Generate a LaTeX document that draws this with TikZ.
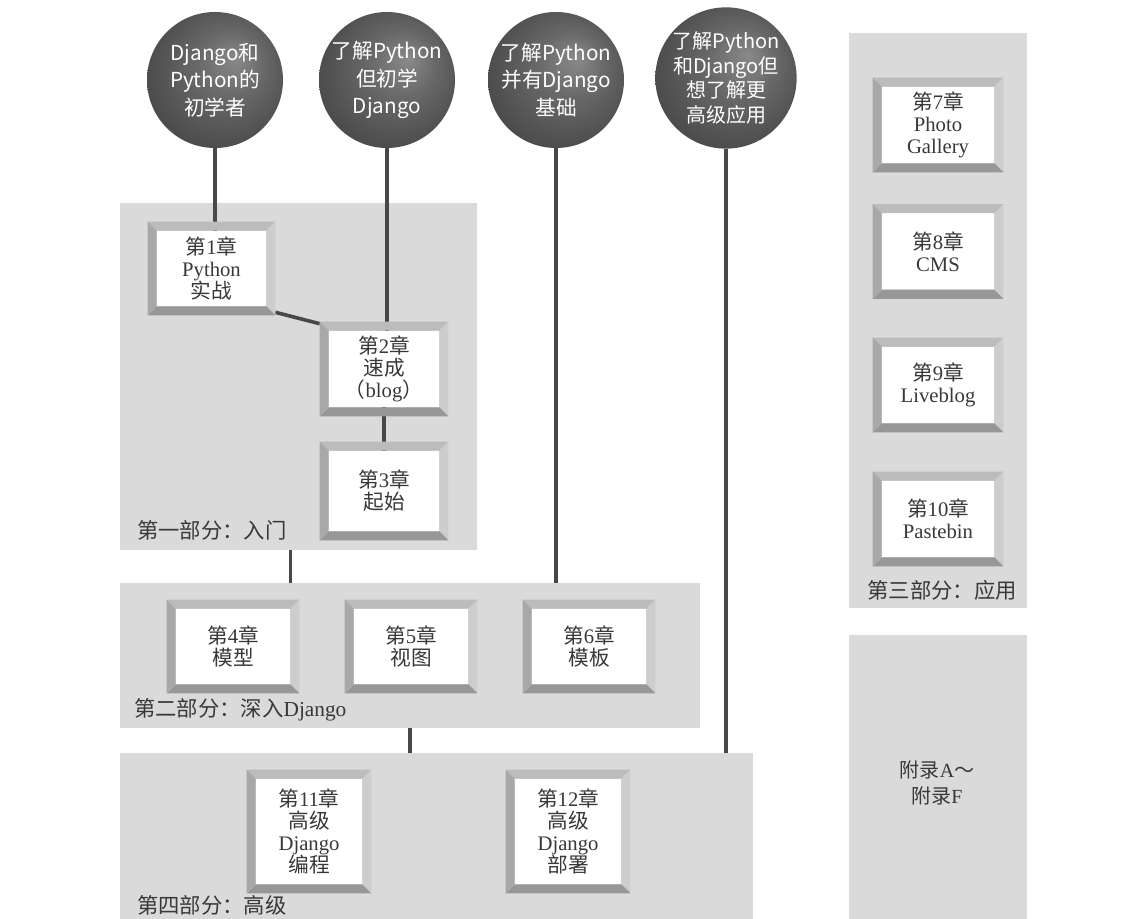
\documentclass[tikz,border=0pt]{standalone}
\usepackage{fontspec}
\setmainfont{Liberation Serif}
\newfontfamily\cjk{Noto Sans CJK SC}
\usetikzlibrary{calc}
\newdimen\px \px=0.75pt
\newcommand\zh[1]{{\cjk #1}}
\definecolor{grp}{HTML}{DADADA}
\definecolor{wire}{HTML}{484848}
\definecolor{txt}{HTML}{383838}
\definecolor{bvT}{HTML}{BCBCBC}
\definecolor{bvR}{HTML}{CDCDCD}
\definecolor{bvB}{HTML}{979797}
\definecolor{bvL}{HTML}{A8A8A8}
\pgfdeclareradialshading{sph}{\pgfpoint{8bp}{8bp}}{color(0bp)=(black!46); color(12bp)=(black!59); color(26bp)=(black!69); color(40bp)=(black!77)}
\pgfdeclarelayer{back}
\pgfdeclarelayer{mid}
\pgfsetlayers{back,mid,main}
\newcommand\bevel[1]{%
 \fill[bvT] ($(#1.north west)+(-9,-9)$) -- ($(#1.north east)+(9,-9)$) -- (#1.north east) -- (#1.north west) -- cycle;
 \fill[bvR] ($(#1.north east)+(9,-9)$) -- ($(#1.south east)+(9,9)$) -- (#1.south east) -- (#1.north east) -- cycle;
 \fill[bvB] ($(#1.south east)+(9,9)$) -- ($(#1.south west)+(-9,9)$) -- (#1.south west) -- (#1.south east) -- cycle;
 \fill[bvL] ($(#1.south west)+(-9,9)$) -- ($(#1.north west)+(-9,-9)$) -- (#1.north west) -- (#1.south west) -- cycle;
}
\tikzset{
 ball/.style={circle, minimum size=136\px, inner sep=0, shade, shading=sph, text=white, align=center,
   font={\cjk\fontsize{15.5}{20.5}\selectfont}},
 grpbox/.style={fill=grp, draw=none, inner sep=0},
 chap/.style={fill=white, inner sep=0, align=center, text=txt, font={\fontsize{15.5}{16.5}\selectfont}},
 grplab/.style={inner sep=0, text=txt, font={\fontsize{16}{18}\selectfont}},
 wireline/.style={draw=wire, line width=2.7pt}
}
\begin{document}
\begin{tikzpicture}[x=0.75pt, y=-0.75pt]
\useasboundingbox (0,0) rectangle (1141,919);

% groups
\begin{pgfonlayer}{back}
\fill[white] (0,0) rectangle (1141,919);
\node[grpbox, minimum width=357\px, minimum height=347\px] (p1) at (298.5,376.5) {};
\node[grpbox, minimum width=580\px, minimum height=145\px] (p2) at (410,655.5) {};
\node[grpbox, minimum width=633\px, minimum height=166\px] (p4) at (436.5,836) {};
\node[grpbox, minimum width=178\px, minimum height=575\px] (p3) at (938,320.5) {};
\node[grpbox, minimum width=178\px, minimum height=284\px] (pA) at (938,777) {};
\end{pgfonlayer}

% group labels
\node[grplab, anchor=west] (l1) at (137,530) {\zh{第一部分：入门}};
\node[grplab, anchor=west] (l2) at (134,710) {\zh{第二部分：深入}Django};
\node[grplab, anchor=west] (l4) at (137,905) {\zh{第四部分：高级}};
\node[grplab] (l3) at (942,590) {\zh{第三部分：应用}};
\node[grplab, align=center, font={\fontsize{15}{19}\selectfont}] (appx) at (937,783) {\zh{附录}A\zh{～}\\\zh{附录}F};

% circles
\node[ball] (c1) at (215,80) {Django和\\Python的\\初学者};
\node[ball] (c2) at (387,80) {了解Python\\但初学\\Django};
\node[ball] (c3) at (556,80) {了解Python\\并有Django\\基础};
\node[ball, font={\cjk\fontsize{15}{18.5}\selectfont}] (c4) at (726,78) {了解Python\\和Django但\\想了解更\\高级应用};

% chapters
\node[chap, minimum width=109\px, minimum height=75\px] (ch1) at (211.5,268.5) {\zh{第}1\zh{章}\\Python\\\zh{实战}};
\node[chap, minimum width=110\px, minimum height=76\px] (ch2) at (384,369) {\zh{第}2\zh{章}\\\zh{速成}\\\zh{（}blog\zh{）}};
\node[chap, minimum width=110\px, minimum height=80\px] (ch3) at (384,491) {\zh{第}3\zh{章}\\\zh{起始}};
\node[chap, minimum width=114\px, minimum height=75\px] (ch4) at (233,646.5) {\zh{第}4\zh{章}\\\zh{模型}};
\node[chap, minimum width=114\px, minimum height=75\px] (ch5) at (411,646.5) {\zh{第}5\zh{章}\\\zh{视图}};
\node[chap, minimum width=114\px, minimum height=75\px] (ch6) at (589,646.5) {\zh{第}6\zh{章}\\\zh{模板}};
\node[chap, minimum width=112\px, minimum height=76\px] (ch7) at (938,125) {\zh{第}7\zh{章}\\Photo\\Gallery};
\node[chap, minimum width=112\px, minimum height=76\px] (ch8) at (938,251.5) {\zh{第}8\zh{章}\\CMS};
\node[chap, minimum width=112\px, minimum height=76\px] (ch9) at (938,385) {\zh{第}9\zh{章}\\Liveblog};
\node[chap, minimum width=112\px, minimum height=76\px] (ch10) at (938,519) {\zh{第}10\zh{章}\\Pastebin};
\node[chap, minimum width=106\px, minimum height=105\px] (ch11) at (309,831.5) {\zh{第}11\zh{章}\\\zh{高级}\\Django\\\zh{编程}};
\node[chap, minimum width=106\px, minimum height=105\px] (ch12) at (568,831.5) {\zh{第}12\zh{章}\\\zh{高级}\\Django\\\zh{部署}};

\foreach \n in {ch1,ch2,ch3,ch4,ch5,ch6,ch7,ch8,ch9,ch10,ch11,ch12} {\bevel{\n}}

% connectors
\begin{pgfonlayer}{mid}
\draw[wireline] (c1.south) -- (c1.south |- ch1.north);
\draw[wireline] (c2.south) -- (c2.south |- ch2.north);
\draw[wireline] ($(ch1.south east)+(9,6)$) -- ($(ch2.north west)+(-9,-7)$);
\draw[wireline] (ch2.south) -- (ch3.north);
\coordinate (p1out) at ($(p1.south)+(-8,0)$);
\draw[wireline] (p1out) -- (p1out |- p2.north);
\draw[wireline] (c3.south) -- (c3.south |- p2.north);
\draw[wireline] (p2.south) -- (p2.south |- p4.north);
\draw[wireline] (c4.south) -- (c4.south |- p4.north);
\end{pgfonlayer}
\end{tikzpicture}
\end{document}
